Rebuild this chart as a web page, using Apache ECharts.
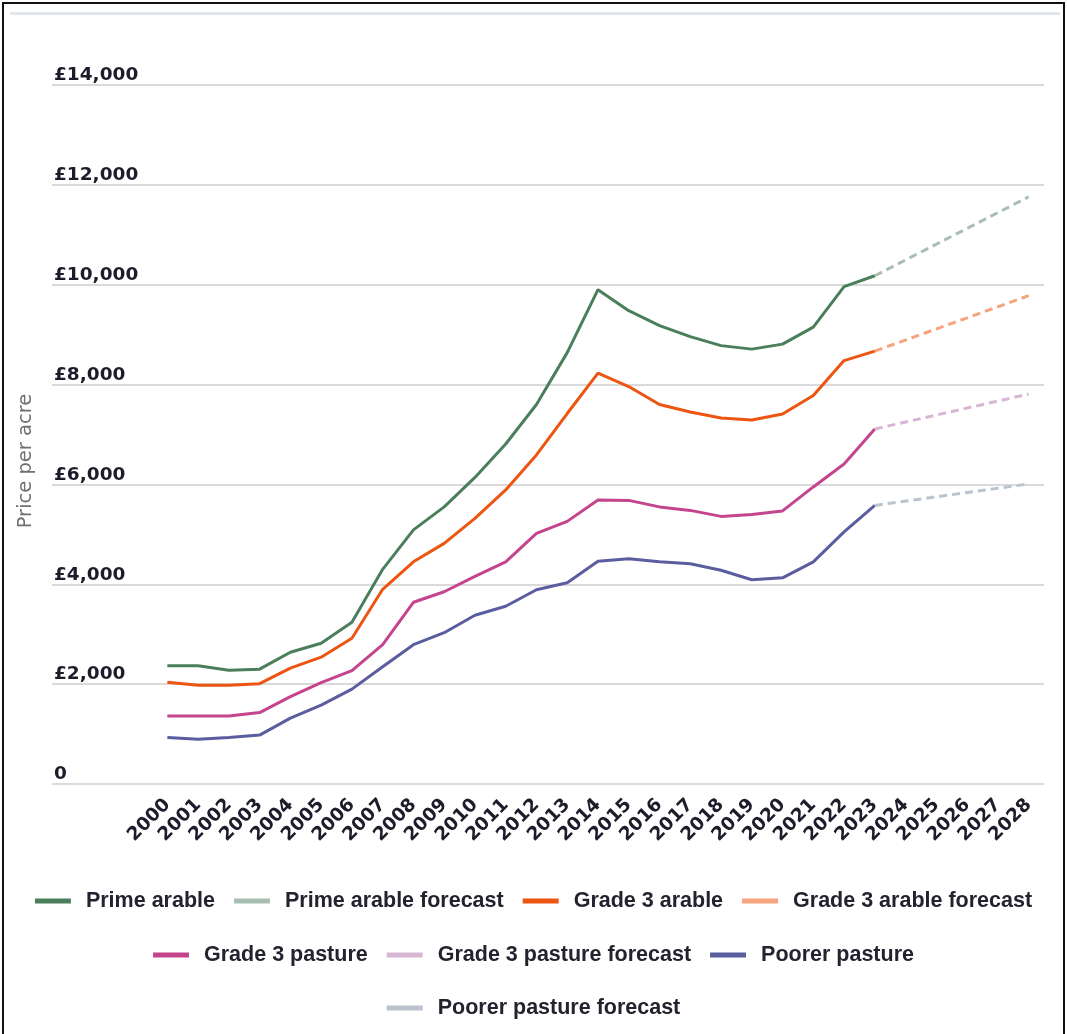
<!DOCTYPE html>
<html>
<head>
<meta charset="utf-8">
<script src="https://cdn.jsdelivr.net/npm/echarts@6/dist/echarts.min.js"></script>
<style>
  html, body { margin: 0; padding: 0; background: #fff; }
  #frame { position: absolute; left: 2px; top: 2px; width: 1059px; height: 1040px; border: 2px solid #111; border-bottom: none; }
  #rule { position: absolute; left: 10px; top: 12px; width: 1050px; height: 3px; background: #e1e7ec; }
  #main { position: absolute; left: 0; top: 0; width: 1067px; height: 1034px; }
</style>
</head>
<body>
<div id="frame"></div>
<div id="rule"></div>
<div id="main"></div>
<script>
// years with recorded prices
var years = [2000, 2001, 2002, 2003, 2004, 2005, 2006, 2007, 2008, 2009, 2010, 2011,
  2012, 2013, 2014, 2015, 2016, 2017, 2018, 2019, 2020, 2021, 2022, 2023];
var forecastYears = [2023, 2028];

var primeArable = [2370, 2370, 2280, 2300, 2640, 2820, 3240, 4300, 5090, 5550, 6140, 6810,
  7600, 8640, 9900, 9480, 9180, 8960, 8780, 8710, 8810, 9150, 9960, 10180];
var grade3Arable = [2040, 1980, 1980, 2010, 2320, 2540, 2920, 3900, 4450, 4820, 5320, 5890,
  6590, 7420, 8230, 7960, 7600, 7450, 7330, 7290, 7410, 7780, 8480, 8670];
var grade3Pasture = [1360, 1360, 1360, 1430, 1750, 2030, 2270, 2790, 3640, 3850, 4160, 4450,
  5020, 5260, 5690, 5680, 5550, 5480, 5360, 5400, 5470, 5950, 6410, 7110];
var poorerPasture = [930, 895, 930, 980, 1320, 1580, 1900, 2350, 2790, 3030, 3380, 3560,
  3890, 4030, 4460, 4510, 4450, 4410, 4280, 4090, 4130, 4450, 5050, 5580];

var primeForecast = [10180, 11760];
var arableForecast = [8670, 9780];
var pastureForecast = [7110, 7810];
var poorerForecast = [5580, 6010];

var yTicks = [0, 2000, 4000, 6000, 8000, 10000, 12000, 14000];

function pairs(xs, ys) {
  return xs.map(function (x, i) { return [x, ys[i]]; });
}

function solid(name, xs, ys, color) {
  return {
    name: name, type: 'line', data: pairs(xs, ys), showSymbol: false, color: color,
    lineStyle: { width: 3, color: color }, itemStyle: { color: color }
  };
}
function dashed(name, xs, ys, color) {
  return {
    name: name, type: 'line', data: pairs(xs, ys), showSymbol: false, color: color,
    lineStyle: { width: 3, color: color, type: [8, 5] }, itemStyle: { color: color }
  };
}

var chart = echarts.init(document.getElementById('main'));

var legendText = { fontFamily: 'Liberation Sans', fontWeight: 'bold', fontSize: 21.5, color: '#23232f', padding: [0, 0, 0, 10], lineHeight: 26 };
function legendRow(names, top) {
  return {
    data: names, top: top, left: 'center', icon: 'rect', itemWidth: 36, itemHeight: 5,
    itemGap: 19, padding: 0, selectedMode: false, textStyle: legendText
  };
}

var option = {
  backgroundColor: 'transparent',
  animation: false,
  grid: { left: 52, right: 23, top: 85, bottom: 250 },
  xAxis: {
    type: 'value', min: 1996.25, max: 2028.5, interval: 0.25,
    splitLine: { show: false }, axisLine: { show: false }, axisTick: { show: false },
    axisLabel: {
      rotate: 45, margin: 18, fontFamily: 'DejaVu Sans', fontWeight: 'bold', fontSize: 18.5, color: '#1c1c2b',
      formatter: function (v) {
        return (Math.abs(v - Math.round(v)) < 1e-6 && v >= 2000 && v <= 2028) ? String(Math.round(v)) : '';
      }
    }
  },
  yAxis: {
    type: 'value', min: yTicks[0], max: yTicks[yTicks.length - 1], interval: 2000,
    axisLine: { show: false }, axisTick: { show: false },
    splitLine: { lineStyle: { color: '#dadada', width: 2 } },
    axisLabel: {
      inside: true, margin: 2, align: 'left', verticalAlign: 'bottom', padding: [0, 0, 0, 0],
      fontFamily: 'DejaVu Sans', fontWeight: 'bold', fontSize: 18.5, color: '#1c1c2b',
      formatter: function (v) { return v === 0 ? '0' : '£' + v.toLocaleString('en-GB'); }
    }
  },
  legend: [
    legendRow(['Prime arable', 'Prime arable forecast', 'Grade 3 arable', 'Grade 3 arable forecast'], 888),
    legendRow(['Grade 3 pasture', 'Grade 3 pasture forecast', 'Poorer pasture'], 942),
    legendRow(['Poorer pasture forecast'], 995)
  ],
  graphic: [{
    type: 'text', x: 26, y: 461, rotation: Math.PI / 2,
    style: { text: 'Price per acre', fill: '#707070', font: '19.5px "DejaVu Sans"', align: 'center', verticalAlign: 'middle' }
  }],
  series: [
    solid('Prime arable', years, primeArable, '#4b7f5c'),
    dashed('Prime arable forecast', forecastYears, primeForecast, '#a7bfb1'),
    solid('Grade 3 arable', years, grade3Arable, '#ec5512'),
    dashed('Grade 3 arable forecast', forecastYears, arableForecast, '#f5a47d'),
    solid('Grade 3 pasture', years, grade3Pasture, '#c4448e'),
    dashed('Grade 3 pasture forecast', forecastYears, pastureForecast, '#d8b6d4'),
    solid('Poorer pasture', years, poorerPasture, '#5b5e9e'),
    dashed('Poorer pasture forecast', forecastYears, poorerForecast, '#b9c4ce')
  ]
};

chart.setOption(option);
</script>
</body>
</html>
